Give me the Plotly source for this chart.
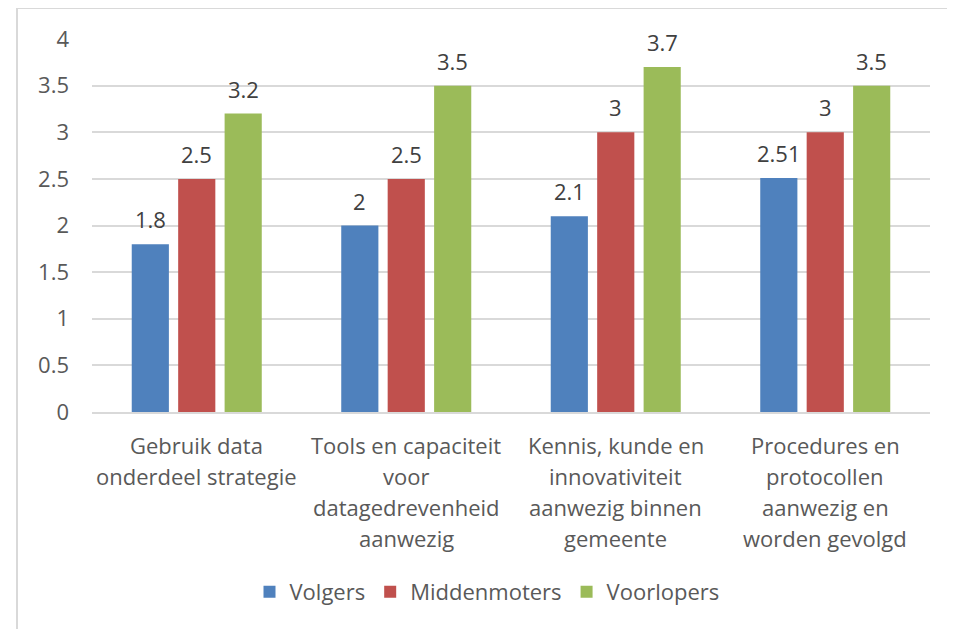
import plotly.graph_objects as go

categories = [
    "Gebruik data onderdeel strategie",
    "Tools en capaciteit voor datagedrevenheid aanwezig",
    "Kennis, kunde en innovativiteit aanwezig binnen gemeente",
    "Procedures en protocollen aanwezig en worden gevolgd",
]
category_lines = [
    ["Gebruik data", "onderdeel strategie"],
    ["Tools en capaciteit", "voor", "datagedrevenheid", "aanwezig"],
    ["Kennis, kunde en", "innovativiteit", "aanwezig binnen", "gemeente"],
    ["Procedures en", "protocollen", "aanwezig en", "worden gevolgd"],
]
series_names = ["Volgers", "Middenmoters", "Voorlopers"]
volgers = [1.8, 2, 2.1, 2.51]
middenmoters = [2.5, 2.5, 3, 3]
voorlopers = [3.2, 3.5, 3.7, 3.5]
series_values = [volgers, middenmoters, voorlopers]
colors = ["#4F81BD", "#C0504D", "#9BBB59"]
y_ticks = [0, 0.5, 1, 1.5, 2, 2.5, 3, 3.5, 4]

FONT = "Open Sans"
GRAY = "#595959"

OFF = 8  # default body margin of the page
W, H = 955 - OFF, 629 - OFF
L, R, T, B = 92 - OFF, 25, 39 - OFF, 217
PW = W - L - R
PH = H - T - B

fig = go.Figure()
for name, vals, col in zip(series_names, series_values, colors):
    fig.add_trace(go.Bar(x=categories, y=vals, name=name, marker_color=col,
                         marker_line_width=0, hoverinfo="skip"))

annotations = []
slot = PW / 4 * (1 - 0.335) / 3
for i, vals in enumerate(series_values):
    for cat, v in zip(categories, vals):
        annotations.append(dict(x=cat, y=v, xref="x", yref="y", text=f"{v:g}",
                                showarrow=False, xshift=(i - 1) * slot, yshift=25,
                                yanchor="middle",
                                font=dict(family=FONT, size=22, color="#404040")))
for cat, lines in zip(categories, category_lines):
    for k, line in enumerate(lines):
        annotations.append(dict(x=cat, y=0, xref="x", yref="paper", text=line,
                                showarrow=False, yanchor="middle",
                                yshift=-(33 + 31 * k),
                                font=dict(family=FONT, size=22, color=GRAY)))

def px_x(p):
    return (p - OFF - L) / PW

def px_y(p):
    return (H - B - (p - OFF)) / PH

fig.update_layout(
    width=W, height=H,
    margin=dict(l=L, r=R, t=T, b=B, pad=0),
    paper_bgcolor="white", plot_bgcolor="white",
    barmode="group", bargap=0.335, bargroupgap=0.2,
    font=dict(family=FONT, size=22, color=GRAY),
    showlegend=True,
    legend=dict(orientation="h", x=px_x(487), xanchor="center",
                y=px_y(592), yanchor="middle",
                font=dict(family=FONT, size=22, color=GRAY),
                itemwidth=30, traceorder="normal"),
    annotations=annotations,
    shapes=[dict(type="rect", xref="paper", yref="paper",
                 x0=px_x(17), x1=px_x(975), y0=px_y(645), y1=px_y(8),
                 line=dict(color="#d9d9d9", width=2), layer="below")],
    xaxis=dict(showticklabels=False, showgrid=False, showline=True,
               linecolor="#d9d9d9", linewidth=2, ticks="", zeroline=False),
    yaxis=dict(range=[0, 4], tickvals=y_ticks, showgrid=True,
               gridcolor="#d9d9d9", gridwidth=2, zeroline=False,
               showline=False, ticks="", ticklabelstandoff=22,
               tickfont=dict(family=FONT, size=22, color=GRAY)),
)

fig.write_html("out.html")
